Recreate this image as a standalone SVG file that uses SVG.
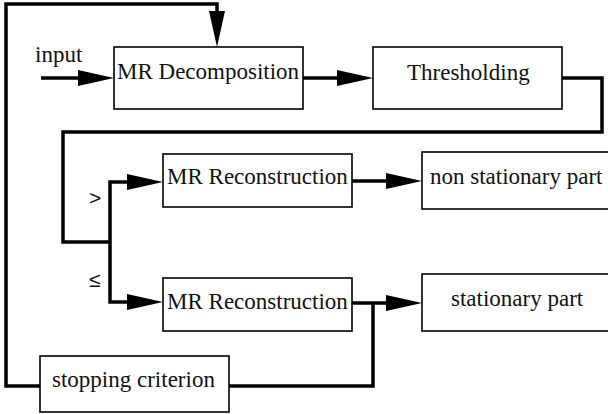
<svg xmlns="http://www.w3.org/2000/svg" width="608" height="414" viewBox="0 0 608 414">
<style>
.box{fill:#fff;stroke:#000;stroke-width:1.6}
.t{font-family:"Liberation Serif","Times New Roman",serif;font-size:23px;fill:#111}
.s{font-family:"Liberation Sans",Arial,sans-serif;font-size:21px;fill:#111}
.c{fill:none;stroke:#000;stroke-width:3.5;stroke-linejoin:miter}
</style>
<defs>
<marker id="ah" markerUnits="userSpaceOnUse" markerWidth="36" markerHeight="16" refX="6" refY="8" orient="auto" viewBox="0 0 36 16">
<path d="M0,0 L36,8 L0,16 z" fill="#000"/>
</marker>
</defs>
<g id="connectors">
<path class="c" d="M41,78 H84" marker-end="url(#ah)"/>
<path class="c" d="M303,78 H343" marker-end="url(#ah)"/>
<path class="c" d="M562,78 H602 V132 H63 V242 H110"/>
<path class="c" d="M110,242 V182 H133" marker-end="url(#ah)"/>
<path class="c" d="M110,242 V302 H133" marker-end="url(#ah)"/>
<path class="c" d="M352,181 H392" marker-end="url(#ah)"/>
<path class="c" d="M352,303 H392" marker-end="url(#ah)"/>
<path class="c" d="M373,303 V386 H229"/>
<path class="c" d="M40,386 H6 V4 H217 V17" marker-end="url(#ah)"/>
</g>
<g id="input-label"><text class="t" x="35" y="62">input</text></g>
<g id="mr-decomposition"><rect class="box" x="114" y="47" width="189" height="62"/><text class="t" x="117" y="79">MR Decomposition</text></g>
<g id="thresholding"><rect class="box" x="373" y="47" width="189" height="62"/><text class="t" x="407" y="80">Thresholding</text></g>
<g id="mr-reconstruction-1"><rect class="box" x="163" y="154" width="189" height="53"/><text class="t" x="167" y="184">MR Reconstruction</text></g>
<g id="non-stationary"><rect class="box" x="422" y="152" width="200" height="57"/><text class="t" x="430" y="184">non stationary part</text></g>
<g id="mr-reconstruction-2"><rect class="box" x="163" y="278" width="189" height="53"/><text class="t" x="167" y="309">MR Reconstruction</text></g>
<g id="stationary"><rect class="box" x="422" y="274" width="200" height="57"/><text class="t" x="451" y="306">stationary part</text></g>
<g id="stopping"><rect class="box" x="40" y="356" width="189" height="56"/><text class="t" x="52" y="387">stopping criterion</text></g>
<g id="labels"><text class="s" x="89" y="205">&gt;</text><text class="s" x="89" y="287">≤</text></g>
</svg>
